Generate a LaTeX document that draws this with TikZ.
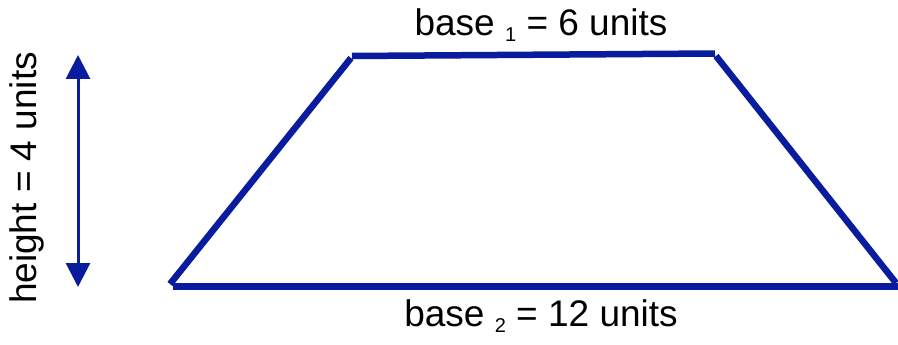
\documentclass[tikz,border=0pt]{standalone}
\usepackage{fontspec}
\setmainfont{Liberation Sans}
\usetikzlibrary{arrows.meta}
\definecolor{tblue}{RGB}{10,28,158}
\newcommand{\mysub}[1]{\raisebox{-6pt}{\fontsize{20}{22}\selectfont #1}}
\begin{document}
\begin{tikzpicture}[x=1pt,y=-1pt,
  edge/.style={draw=tblue,line width=6.5pt},
  lbl/.style={font=\fontsize{37}{40}\selectfont,inner sep=0pt,anchor=base},
  harrow/.style={draw=tblue,line width=3pt,{Triangle[width=24pt,length=24pt]}-{Triangle[width=24pt,length=24pt]}}]
\useasboundingbox (0,0) rectangle (898,345);
\coordinate (tl) at (352,56);
\coordinate (tr) at (715,53.5);
\coordinate (tl2) at (351,58);
\coordinate (bl) at (170,284);
\coordinate (tr2) at (716,56);
\coordinate (br) at (896,283);
\coordinate (bl2) at (173,286.5);
\coordinate (br2) at (898,286.5);
\coordinate (at) at (78,55);
\coordinate (ab) at (78,287);
\draw[edge] (tl) -- (tr);
\draw[edge] (tl2) -- (bl);
\draw[edge] (tr2) -- (br);
\draw[edge] (bl2) -- (br2);
\draw[harrow] (ab) -- (at);
\node[lbl] (b1) at (541,36) {base \mysub{1} = 6 units};
\node[lbl] (b2) at (541,326) {base \mysub{2} = 12 units};
\node[font=\fontsize{37}{40}\selectfont,inner sep=0pt,rotate=90] (h) at (27,178) {height = 4 units};
\end{tikzpicture}
\end{document}
